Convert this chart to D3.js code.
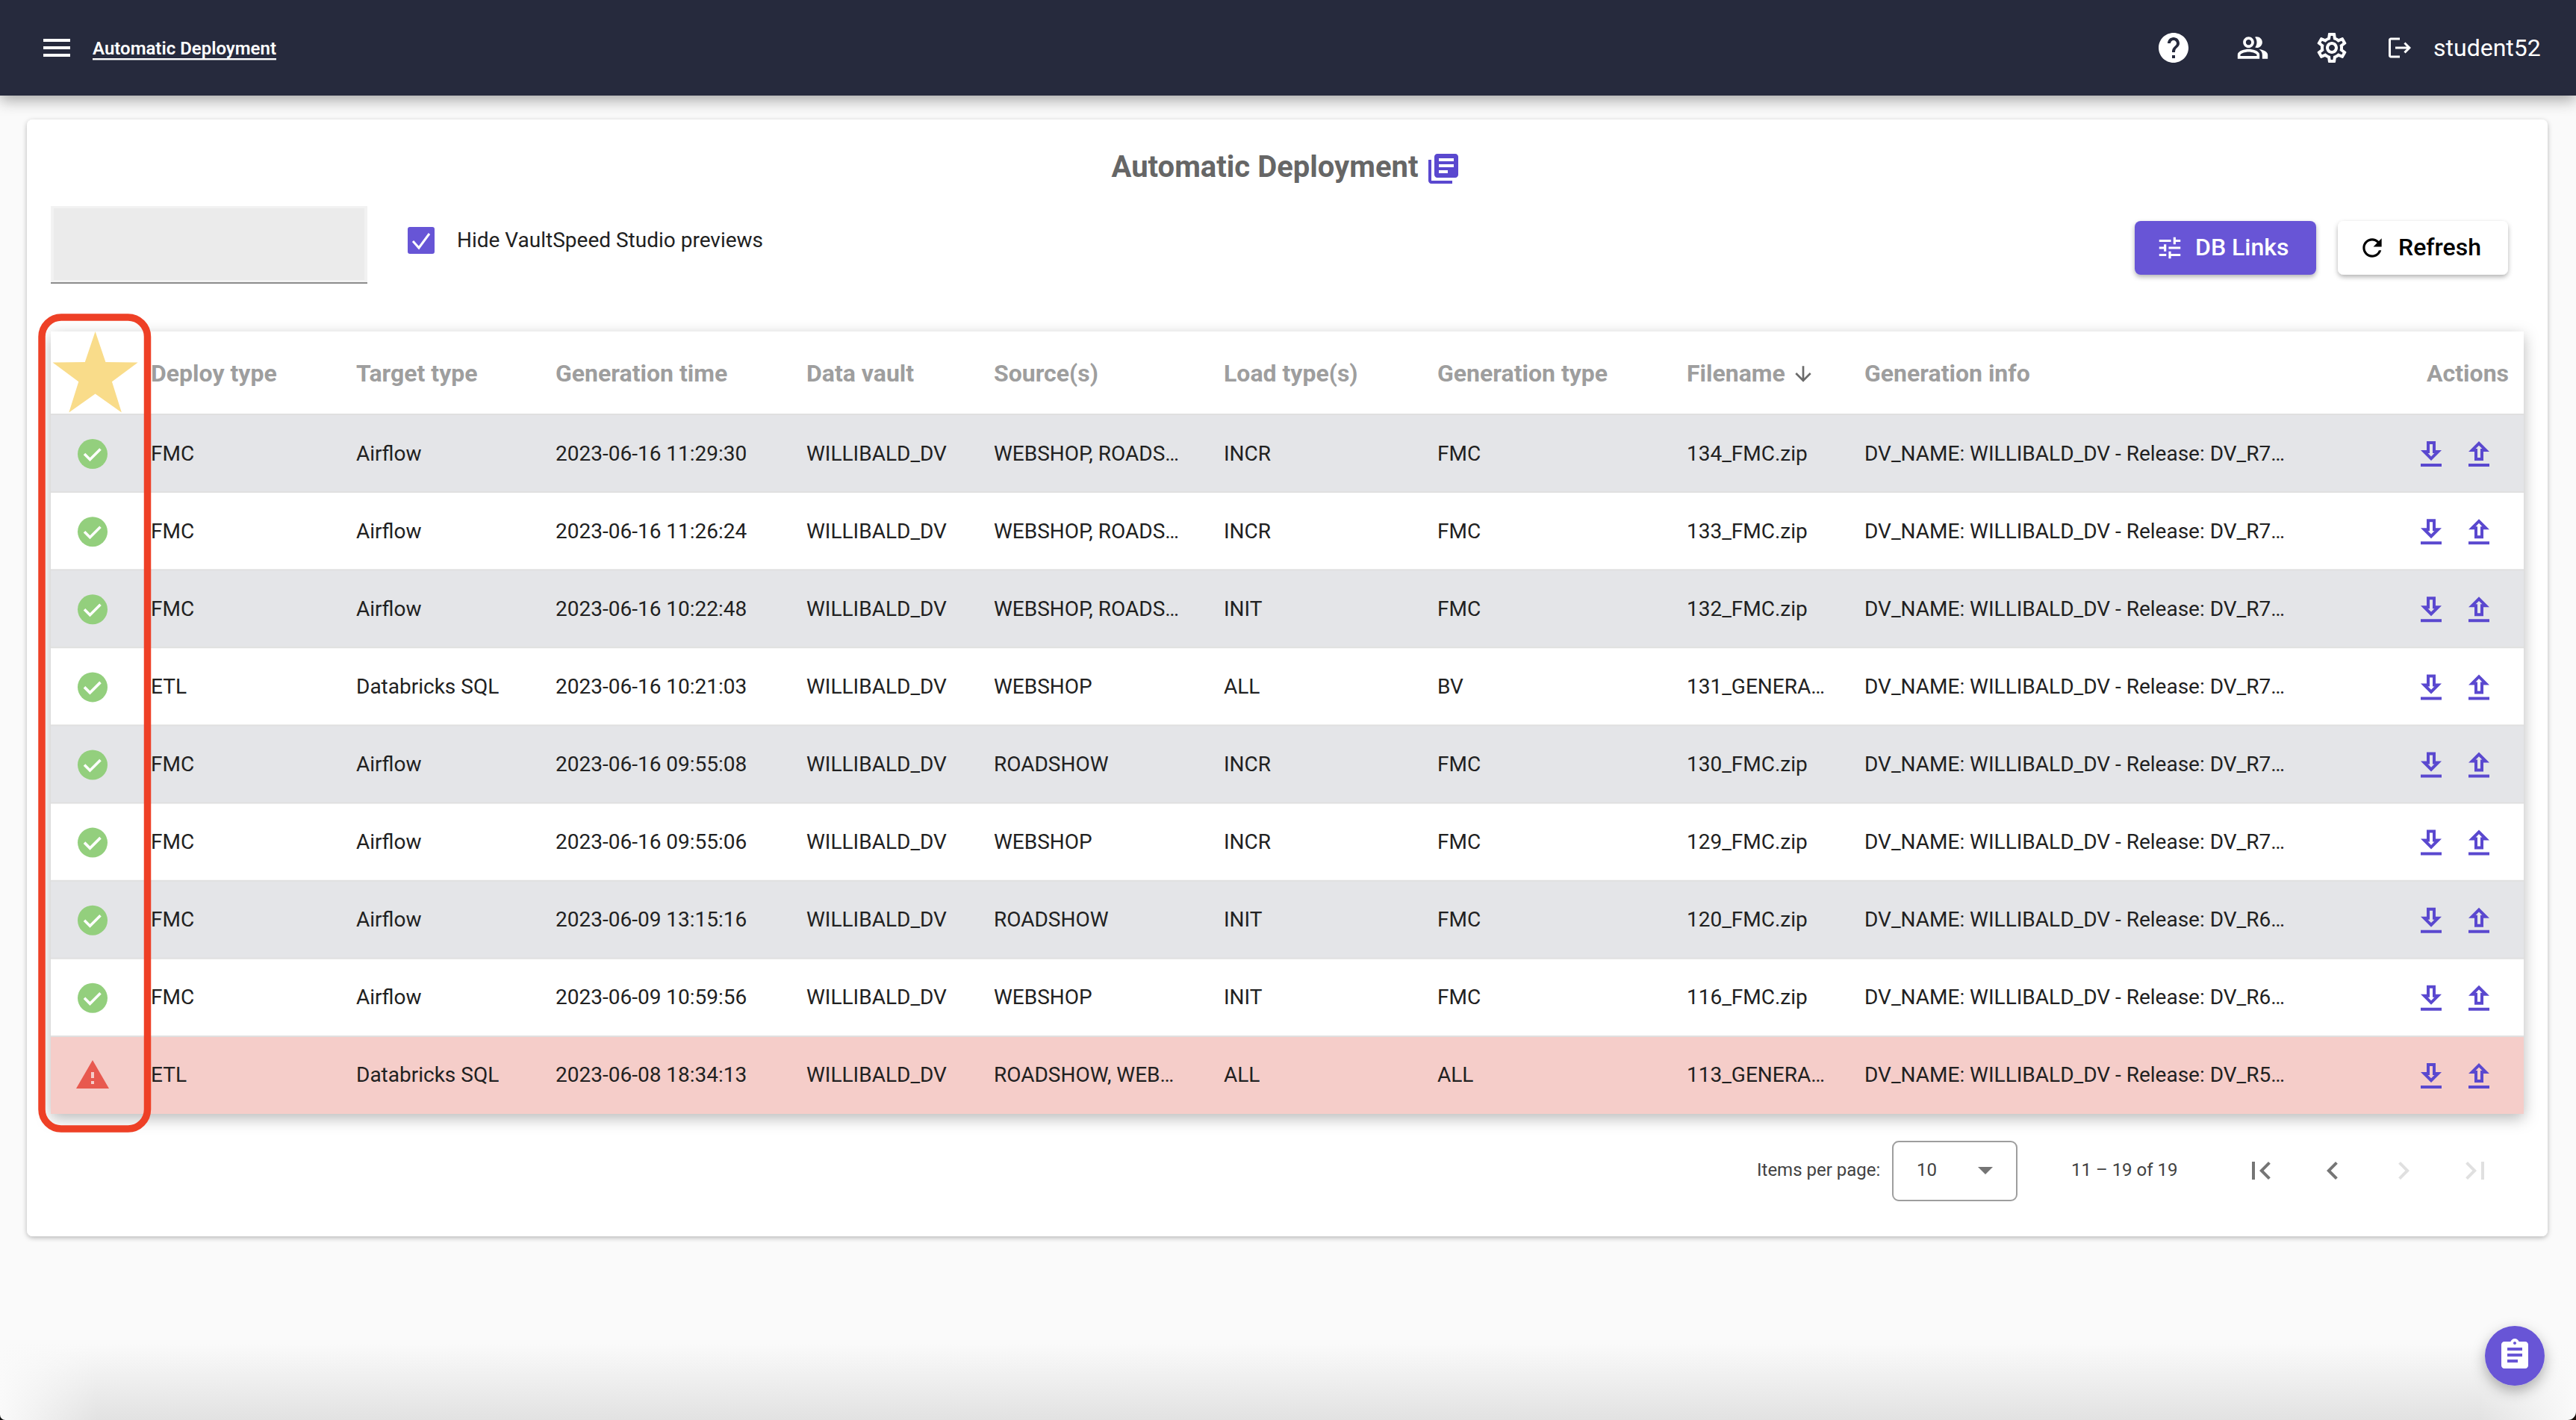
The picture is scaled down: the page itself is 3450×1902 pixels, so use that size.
<!DOCTYPE html>
<html><head><meta charset="utf-8">
<script src="https://cdn.jsdelivr.net/npm/d3@7"></script>
<style>html,body{margin:0;padding:0;background:#fafafa;overflow:hidden}svg{display:block}text{font-family:Roboto,sans-serif}</style>
</head><body><svg id="c" width="3450" height="1902" viewBox="0 0 3450 1902"></svg>
<script>
const columns=["Deploy type","Target type","Generation time","Data vault","Source(s)","Load type(s)","Generation type","Filename","Generation info"];
const deployType=["FMC","FMC","FMC","ETL","FMC","FMC","FMC","FMC","ETL"];
const targetType=["Airflow","Airflow","Airflow","Databricks SQL","Airflow","Airflow","Airflow","Airflow","Databricks SQL"];
const generationTime=["2023-06-16 11:29:30","2023-06-16 11:26:24","2023-06-16 10:22:48","2023-06-16 10:21:03","2023-06-16 09:55:08","2023-06-16 09:55:06","2023-06-09 13:15:16","2023-06-09 10:59:56","2023-06-08 18:34:13"];
const dataVault=["WILLIBALD_DV","WILLIBALD_DV","WILLIBALD_DV","WILLIBALD_DV","WILLIBALD_DV","WILLIBALD_DV","WILLIBALD_DV","WILLIBALD_DV","WILLIBALD_DV"];
const sources=["WEBSHOP, ROADS…","WEBSHOP, ROADS…","WEBSHOP, ROADS…","WEBSHOP","ROADSHOW","WEBSHOP","ROADSHOW","WEBSHOP","ROADSHOW, WEB…"];
const loadTypes=["INCR","INCR","INIT","ALL","INCR","INCR","INIT","INIT","ALL"];
const generationType=["FMC","FMC","FMC","BV","FMC","FMC","FMC","FMC","ALL"];
const filenames=["134_FMC.zip","133_FMC.zip","132_FMC.zip","131_GENERA…","130_FMC.zip","129_FMC.zip","120_FMC.zip","116_FMC.zip","113_GENERA…"];
const generationInfo=["R7","R7","R7","R7","R7","R7","R6","R6","R5"].map(r=>`DV_NAME: WILLIBALD_DV - Release: DV_${r}…`);
const status=["ok","ok","ok","ok","ok","ok","ok","ok","warn"];
const tableCols=[deployType,targetType,generationTime,dataVault,sources,loadTypes,generationType,filenames,generationInfo];

const P={menu:"M3 18h18v-2H3v2zm0-5h18v-2H3v2zm0-7v2h18V6H3z",
help:"M12 2C6.48 2 2 6.48 2 12s4.48 10 10 10 10-4.48 10-10S17.52 2 12 2zm1 17h-2v-2h2v2zm2.07-7.75l-.9.92C13.45 12.9 13 13.5 13 15h-2v-.5c0-1.1.45-2.1 1.17-2.83l1.24-1.26c.37-.36.59-.86.59-1.41 0-1.1-.9-2-2-2s-2 .9-2 2H8c0-2.21 1.79-4 4-4s4 1.79 4 4c0 .88-.36 1.68-.93 2.25z",
people:"M16.67 13.13C18.04 14.06 19 15.32 19 17v3h4v-3c0-2.18-3.57-3.47-6.33-3.87zM15 12c2.21 0 4-1.79 4-4s-1.79-4-4-4c-.47 0-.91.1-1.33.24C14.5 5.27 15 6.58 15 8s-.5 2.73-1.33 3.76c.42.14.86.24 1.33.24zM9 12c2.21 0 4-1.79 4-4s-1.79-4-4-4-4 1.79-4 4 1.79 4 4 4zm0-6c1.1 0 2 .9 2 2s-.9 2-2 2-2-.9-2-2 .9-2 2-2zM9 13c-2.67 0-8 1.34-8 4v3h16v-3c0-2.66-5.33-4-8-4zm6 5H3v-.99C3.2 16.29 6.3 15 9 15s5.8 1.29 6 2z",
gear:"M19.43 12.98c.04-.32.07-.64.07-.98 0-.34-.03-.66-.07-.98l2.11-1.65c.19-.15.24-.42.12-.64l-2-3.46c-.09-.16-.26-.25-.44-.25-.06 0-.12.01-.17.03l-2.49 1c-.52-.4-1.08-.73-1.69-.98l-.38-2.65C14.46 2.18 14.25 2 14 2h-4c-.25 0-.46.18-.49.42l-.38 2.65c-.61.25-1.17.59-1.69.98l-2.49-1c-.06-.02-.12-.03-.18-.03-.17 0-.34.09-.43.25l-2 3.46c-.13.22-.07.49.12.64l2.11 1.65c-.04.32-.07.65-.07.98 0 .33.03.66.07.98l-2.11 1.65c-.19.15-.24.42-.12.64l2 3.46c.09.16.26.25.44.25.06 0 .12-.01.17-.03l2.49-1c.52.4 1.08.73 1.69.98l.38 2.65c.03.24.24.42.49.42h4c.25 0 .46-.18.49-.42l.38-2.65c.61-.25 1.17-.59 1.69-.98l2.49 1c.06.02.12.03.18.03.17 0 .34-.09.43-.25l2-3.46c.12-.22.07-.49-.12-.64l-2.11-1.65zm-1.98-1.71c.04.31.05.52.05.73 0 .21-.02.43-.05.73l-.14 1.13.89.7 1.08.84-.7 1.21-1.27-.51-1.04-.42-.9.68c-.43.32-.84.56-1.25.73l-1.06.43-.16 1.13-.2 1.35h-1.4l-.19-1.35-.16-1.13-1.06-.43c-.43-.18-.83-.41-1.23-.71l-.91-.7-1.06.43-1.27.51-.7-1.21 1.08-.84.89-.7-.14-1.13c-.03-.31-.05-.54-.05-.74s.02-.43.05-.73l.14-1.13-.89-.7-1.08-.84.7-1.21 1.27.51 1.04.42.9-.68c.43-.32.84-.56 1.25-.73l1.06-.43.16-1.13.2-1.35h1.39l.19 1.35.16 1.13 1.06.43c.43.18.83.41 1.23.71l.91.7 1.06-.43 1.27-.51.7 1.21-1.07.85-.89.7.14 1.13zM12 8c-2.21 0-4 1.79-4 4s1.79 4 4 4 4-1.79 4-4-1.79-4-4-4zm0 6c-1.1 0-2-.9-2-2s.9-2 2-2 2 .9 2 2-.9 2-2 2z",
logout:"M17 7l-1.41 1.41L18.17 11H8v2h10.17l-2.58 2.58L17 17l5-5zM4 5h8V3H4c-1.1 0-2 .9-2 2v14c0 1.1.9 2 2 2h8v-2H4V5z",
books:"M4 6H2v14c0 1.1.9 2 2 2h14v-2H4V6zm16-4H8c-1.1 0-2 .9-2 2v12c0 1.1.9 2 2 2h12c1.1 0 2-.9 2-2V4c0-1.1-.9-2-2-2zm-1 9H9V9h10v2zm-4 4H9v-2h6v2zm4-8H9V5h10v2z",
tune:"M3 17v2h6v-2H3zM3 5v2h10V5H3zm10 16v-2h8v-2h-8v-2h-2v6h2zM7 9v2H3v2h4v2h2V9H7zm14 4v-2H11v2h10zm-6-4h2V7h4V5h-4V3h-2v6z",
refresh:"M17.65 6.35C16.2 4.9 14.21 4 12 4c-4.42 0-7.99 3.58-7.99 8s3.57 8 7.99 8c3.73 0 6.84-2.55 7.73-6h-2.08c-.82 2.33-3.04 4-5.65 4-3.31 0-6-2.69-6-6s2.69-6 6-6c1.66 0 3.14.69 4.22 1.78L13 11h7V4l-2.35 2.35z",
warn:"M1 21h22L12 2 1 21zm12-3h-2v-2h2v2zm0-4h-2v-4h2v4z",
first:"M18.41 16.59L13.82 12l4.59-4.59L17 6l-6 6 6 6zM6 6h2v12H6z",
prev:"M15.41 7.41L14 6l-6 6 6 6 1.41-1.41L10.83 12z",
next:"M10 6L8.59 7.41 13.17 12l-4.58 4.59L10 18l6-6z",
last:"M5.59 7.41L10.18 12l-4.59 4.59L7 18l6-6-6-6zM16 6h2v12h-2z",
down:"M19 9h-4V3H9v6H5l7 7 7-7zm-8 2V5h2v6h1.17L12 13.17 9.83 11H11zm-6 7h14v2H5z",
up:"M9 16h6v-6h4l-7-7-7 7h4v6zm3-10.17L14.17 8H13v6h-2V8H9.83L12 5.83zM5 18h14v2H5z",
clip:"M19 3h-4.18C14.4 1.84 13.3 1 12 1c-1.3 0-2.4.84-2.82 2H5c-1.1 0-2 .9-2 2v14c0 1.1.9 2 2 2h14c1.1 0 2-.9 2-2V5c0-1.1-.9-2-2-2zm-7 0c.55 0 1 .45 1 1s-.45 1-1 1-1-.45-1-1 .45-1 1-1zm2 14H7v-2h7v2zm3-4H7v-2h10v2zm0-4H7V7h10v2z",
arrowDown:"M20 12l-1.41-1.41L13 16.17V4h-2v12.17l-5.58-5.59L4 12l8 8 8-8z"};

const svg=d3.select("#c");
const defs=svg.append("defs");
function shadow(id,dy,sd,op){const f=defs.append("filter").attr("id",id).attr("x","-20%").attr("y","-20%").attr("width","140%").attr("height","150%");
 f.append("feDropShadow").attr("dx",0).attr("dy",dy).attr("stdDeviation",sd).attr("flood-color","#000").attr("flood-opacity",op);}
shadow("sHead",6,10,.35);shadow("sCard",2,3,.28);shadow("sTable",6,10,.28);shadow("sBtn",3,3,.3);
const fabF=defs.append("filter").attr("id","sFab").attr("x","-50%").attr("y","-50%").attr("width","200%").attr("height","200%");
fabF.append("feDropShadow").attr("dx",0).attr("dy",7).attr("stdDeviation",9).attr("flood-color","#000").attr("flood-opacity",.3);
const grad=defs.append("linearGradient").attr("id","bot").attr("x1",0).attr("x2",0).attr("y1",0).attr("y2",1);
grad.append("stop").attr("offset",0).attr("stop-color","#fafafa");
grad.append("stop").attr("offset",1).attr("stop-color","#e2e2e2");
const fadeL=defs.append("linearGradient").attr("id","fadeL");
fadeL.append("stop").attr("offset",0).attr("stop-color","#fafafa").attr("stop-opacity",1);
fadeL.append("stop").attr("offset",1).attr("stop-color","#fafafa").attr("stop-opacity",0);
const fadeR=defs.append("linearGradient").attr("id","fadeR");
fadeR.append("stop").attr("offset",0).attr("stop-color","#fafafa").attr("stop-opacity",0);
fadeR.append("stop").attr("offset",1).attr("stop-color","#fafafa").attr("stop-opacity",1);

function icon(g,name,cx,cy,size,fill){return g.append("path").attr("d",P[name]).attr("transform",`translate(${cx-size/2},${cy-size/2}) scale(${size/24})`).attr("fill",fill);}
function txt(g,s,x,y,size,fill,weight,anchor){return g.append("text").text(s).attr("x",x).attr("y",y).attr("font-size",size).attr("fill",fill).attr("font-weight",weight||400).attr("text-anchor",anchor||"start").attr("dominant-baseline","central");}

const PURPLE="#6755d6";
svg.append("rect").attr("width",3450).attr("height",1902).attr("fill","#fafafa");
svg.append("rect").attr("y",1800).attr("width",3450).attr("height",102).attr("fill","url(#bot)");
svg.append("rect").attr("y",1800).attr("width",130).attr("height",102).attr("fill","url(#fadeL)");
svg.append("rect").attr("x",3320).attr("y",1800).attr("width",130).attr("height",102).attr("fill","url(#fadeR)");

// card
svg.append("rect").attr("x",36).attr("y",160).attr("width",3376).attr("height",1496).attr("rx",8).attr("fill","#fff").attr("filter","url(#sCard)");
// header bar
const head=svg.append("g");
head.append("rect").attr("width",3450).attr("height",128).attr("fill","#28293d").attr("filter","url(#sHead)");
icon(head,"menu",76,64,48,"#fff");
txt(head,"Automatic Deployment",124,65,24,"#fff",600).attr("text-decoration","underline");
icon(head,"help",2911,64,48,"#fff");
icon(head,"people",3017,64,44,"#fff");
icon(head,"gear",3123,64,48,"#fff");
icon(head,"logout",3214,64,36,"#fff");
txt(head,"student52",3259,64,32,"#fff",400);

// title
const tg=svg.append("g");
txt(tg,"Automatic Deployment",1694,223,40,"#666666",700,"middle");
icon(tg,"books",1933,226,48,"#5a48cf");

// skeleton & checkbox
svg.append("rect").attr("x",68).attr("y",276).attr("width",424).attr("height",102).attr("fill","#f2f2f2");
svg.append("rect").attr("x",72).attr("y",279).attr("width",416).attr("height",96).attr("fill","#ebebeb");
svg.append("rect").attr("x",68).attr("y",378).attr("width",424).attr("height",2).attr("fill","#8c8c8c");
svg.append("rect").attr("x",546).attr("y",304).attr("width",36).attr("height",36).attr("rx",3).attr("fill",PURPLE);
svg.append("path").attr("d","M553 323 L561 332 L575 313").attr("fill","none").attr("stroke","#fff").attr("stroke-width",3);
txt(svg,"Hide VaultSpeed Studio previews",612,321,28,"#212121",400);

// buttons
const b1=svg.append("g");
b1.append("rect").attr("x",2859).attr("y",296).attr("width",243).attr("height",72).attr("rx",8).attr("fill",PURPLE).attr("filter","url(#sBtn)");
icon(b1,"tune",2906,332,38,"#fff");
txt(b1,"DB Links",2940,331,32,"#fff",500);
const b2=svg.append("g");
b2.append("rect").attr("x",3131).attr("y",296).attr("width",228).attr("height",72).attr("rx",8).attr("fill","#fff").attr("filter","url(#sBtn)");
icon(b2,"refresh",3177,332,38,"#000");
txt(b2,"Refresh",3212,331,32,"#000",500);

// table
const colX=d3.scaleOrdinal().domain(columns).range([202,477,744,1080,1331,1639,1925,2259,2497]);
const rowY=d3.scaleBand().domain(d3.range(status.length)).range([555,1492]);
const table=svg.append("g");
table.append("rect").attr("x",68).attr("y",444).attr("width",3312).attr("height",1048).attr("fill","#fff").attr("filter","url(#sTable)");
const rowFill=(d,i)=>status[i]==="warn"?"#f5cdc9":(i%2===0?"#e4e5e8":"#fff");
table.selectAll("rect.row").data(status).join("rect").attr("class","row")
 .attr("x",68).attr("width",3312).attr("y",(d,i)=>rowY(i)).attr("height",rowY.bandwidth()).attr("fill",rowFill);
table.selectAll("line.sep").data(status).join("line").attr("class","sep")
 .attr("x1",68).attr("x2",3380).attr("y1",(d,i)=>rowY(i)).attr("y2",(d,i)=>rowY(i)).attr("stroke","#e0e0e0").attr("stroke-width",2);
columns.forEach(c=>txt(table,c,colX(c),500,32,"#9e9e9e",700));
icon(table,"arrowDown",2415,501,32,"#6b6b6b");
txt(table,"Actions",3360,500,32,"#9e9e9e",700,"end");
tableCols.forEach((col,ci)=>{
 table.selectAll(null).data(col).join("text").text(d=>d).attr("x",colX(columns[ci]))
  .attr("y",(d,i)=>rowY(i)+rowY.bandwidth()/2).attr("font-size",28).attr("fill","#212121").attr("dominant-baseline","central");
});
status.forEach((s,i)=>{
 const cy=rowY(i)+rowY.bandwidth()/2;
 if(s==="ok"){
  table.append("circle").attr("cx",124).attr("cy",cy+1).attr("r",20).attr("fill","#93cf7d");
  table.append("path").attr("d",`M${124-11} ${cy+1} l7.5 7.5 l14 -14`).attr("fill","none").attr("stroke","#fff").attr("stroke-width",3.6);
 } else {
  icon(table,"warn",124,cy,48,"#e8594f");
 }
 icon(table,"down",3256,cy+2,48,"#5a48cf");
 icon(table,"up",3320,cy+2,48,"#5a48cf");
});
// star
const starPts=d3.range(10).map(i=>{const a=-Math.PI/2+i*Math.PI/5,r=i%2?23.5:60;return [127.6+r*Math.cos(a),504+r*Math.sin(a)];});
svg.append("path").attr("d",d3.line()(starPts)+"Z").attr("fill","#f9dc8a");
// red highlight
svg.append("rect").attr("x",56).attr("y",425).attr("width",141.5).attr("height",1087).attr("rx",26).attr("fill","none").attr("stroke","#ee4026").attr("stroke-width",9.5);

// pagination
const pg=svg.append("g");
txt(pg,"Items per page:",2353,1567,24,"#424242");
pg.append("rect").attr("x",2535).attr("y",1529).attr("width",166).attr("height",79).attr("rx",8).attr("fill","#fff").attr("stroke","#9e9e9e").attr("stroke-width",2);
txt(pg,"10",2567,1567,24,"#424242");
pg.append("path").attr("d","M2649 1563 h20 l-10 10 z").attr("fill","#757575");
txt(pg,"11 – 19 of 19",2774,1567,24,"#424242");
icon(pg,"first",3028,1568,48,"#757575");
icon(pg,"prev",3124,1568,48,"#757575");
icon(pg,"next",3219,1568,48,"#e0e0e0");
icon(pg,"last",3315,1568,48,"#e0e0e0");

// FAB
svg.append("circle").attr("cx",3368).attr("cy",1816).attr("r",40).attr("fill",PURPLE).attr("filter","url(#sFab)");
icon(svg,"clip",3368,1815,48,"#fff");
// window corners
svg.append("path").attr("d","M3450 1891 V1902 H3439 A11 11 0 0 0 3450 1891 Z").attr("fill","#1a0f0a");
svg.append("path").attr("d","M0 1895 V1902 H7 A7 7 0 0 1 0 1895 Z").attr("fill","#111");
</script></body></html>
